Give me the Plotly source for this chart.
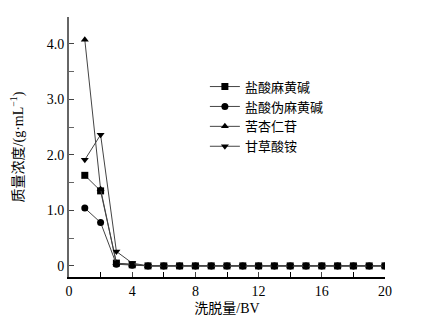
import plotly.graph_objects as go

x_vals = list(range(1, 21))
names = ["盐酸麻黄碱", "盐酸伪麻黄碱", "苦杏仁苷", "甘草酸铵"]
ephedrine = [1.63, 1.35, 0.05, 0.02] + [0.0] * 16
pseudoephedrine = [1.04, 0.78, 0.03, 0.01] + [0.0] * 16
amygdalin = [4.07, 1.38, 0.05, 0.02] + [0.0] * 16
glycyrrhizin = [1.91, 2.36, 0.26, 0.05] + [0.0] * 16
series = [ephedrine, pseudoephedrine, amygdalin, glycyrrhizin]
symbols = ["square", "circle", "triangle-up", "triangle-down"]

y_tickvals = [0, 1, 2, 3, 4]
y_ticktext = ["0", "1.0", "2.0", "3.0", "4.0"]
x_tickvals = [0, 4, 8, 12, 16, 20]

font_family = "Liberation Serif, Noto Sans CJK SC, serif"

fig = go.Figure()
for name, ys, sym in zip(names, series, symbols):
    fig.add_trace(go.Scatter(
        x=x_vals, y=ys, name=name, mode="lines+markers",
        line=dict(color="#444444", width=1),
        marker=dict(symbol=sym, size=7, color="black"),
    ))

fig.update_layout(
    width=424, height=326,
    margin=dict(l=69, r=39, t=17, b=47),
    paper_bgcolor="white", plot_bgcolor="white",
    font=dict(family=font_family, size=14, color="black"),
    showlegend=True,
    legend=dict(x=0.43, y=0.79, xanchor="left", yanchor="top",
                bgcolor="rgba(0,0,0,0)", font=dict(size=13, family=font_family),
                tracegroupgap=0),
)
fig.update_xaxes(
    range=[0, 20], tickvals=x_tickvals, ticks="inside", ticklen=5,
    showline=True, linecolor="black", linewidth=1.5, showgrid=False, zeroline=False,
    minor=dict(tickvals=[2, 6, 10, 14, 18], ticks="inside", ticklen=5, tickcolor="black"),
    title=dict(text="洗脱量/BV", standoff=6, font=dict(size=14)),
    tickfont=dict(size=14),
)
fig.update_yaxes(
    range=[-0.2, 4.48], tickvals=y_tickvals, ticktext=y_ticktext, ticks="inside", ticklen=5,
    showline=True, linecolor="#666666", linewidth=2, showgrid=False, zeroline=False,
    minor=dict(tickvals=[0.5, 1.5, 2.5, 3.5], ticks="inside", ticklen=5, tickcolor="#666666"),
    title=dict(text="质量浓度/(g·mL<sup>−1</sup>)", standoff=20, font=dict(size=14)),
    tickfont=dict(size=14),
)

fig.write_html("out.html")
